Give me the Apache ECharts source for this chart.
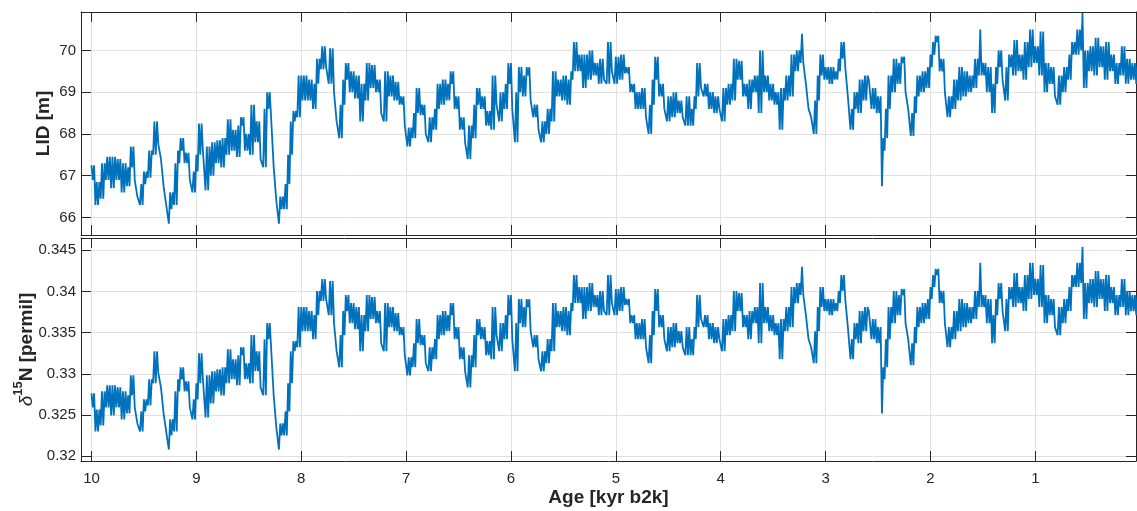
<!DOCTYPE html>
<html>
<head>
<meta charset="UTF-8">
<title>LID and d15N</title>
<script src="https://cdn.jsdelivr.net/npm/echarts@6/dist/echarts.min.js"></script>
<style>
html, body { margin: 0; padding: 0; background: #fff; }
#container { width: 1137px; height: 511px; }
</style>
</head>
<body>
<div id="container"></div>
<script>
// both records are read as an upper and a lower edge of the noisy trace,
// every 25 yr starting at 10.0 kyr b2k
var ageStart = 10.0, ageStep = 0.025;

// lock-in depth [m], upper panel
var lidUpper = [
  67.25, 67.25, 66.85, 66.85, 67.3, 67.3, 67.45, 67.45, 67.45, 67.45,
  67.4, 67.4, 67.3, 67.3, 67.2, 67.7, 67.7, 66.9, 66.5, 66.8,
  67.1, 67.1, 67.6, 67.6, 68.3, 68.3, 67.75, 67.4, 66.75, 66.3,
  66.6, 66.6, 67.3, 67.6, 67.9, 67.9, 67.55, 67.55, 66.9, 67.1,
  67.5, 68.25, 68.25, 67.6, 67.7, 67.7, 67.8, 67.8, 67.85, 67.85,
  67.9, 67.9, 68.35, 68.35, 68.1, 68.1, 68.2, 68.4, 68.4, 68.0,
  68.0, 68.7, 68.7, 68.3, 68.3, 67.4, 68.6, 69.0, 69.0, 68.4,
  67.2, 66.4, 66.5, 66.5, 66.8, 67.5, 68.3, 68.55, 68.55, 69.4,
  69.4, 69.4, 69.4, 69.3, 69.3, 69.2, 69.8, 69.8, 70.1, 70.1,
  69.6, 70.05, 70.05, 69.0, 68.3, 68.7, 69.3, 69.7, 69.7, 69.5,
  69.5, 69.4, 69.4, 69.2, 69.2, 69.7, 69.7, 69.65, 69.65, 69.3,
  69.3, 68.5, 69.5, 69.5, 69.4, 69.4, 69.25, 69.25, 68.9, 68.9,
  68.2, 68.15, 68.15, 68.5, 69.1, 69.1, 68.7, 68.7, 68.0, 68.4,
  68.4, 68.6, 69.2, 69.2, 69.3, 69.3, 69.2, 69.5, 69.5, 68.9,
  68.9, 68.4, 68.4, 67.8, 68.2, 68.2, 68.7, 69.1, 69.1, 68.9,
  68.9, 68.55, 68.55, 69.4, 69.4, 68.7, 69.0, 69.0, 69.2, 69.7,
  69.7, 68.6, 69.0, 69.6, 69.6, 69.4, 69.6, 69.6, 68.8, 68.7,
  68.7, 68.1, 68.3, 68.3, 68.6, 68.6, 69.5, 69.5, 69.3, 69.3,
  69.4, 69.4, 69.3, 69.5, 70.2, 70.2, 69.9, 69.9, 69.9, 69.9,
  70.0, 70.0, 69.7, 69.7, 69.8, 69.8, 69.3, 70.2, 70.2, 69.5,
  69.85, 69.85, 69.9, 69.9, 69.6, 69.6, 69.2, 69.2, 69.0, 69.0,
  69.1, 69.1, 68.4, 68.7, 69.3, 69.85, 69.85, 69.2, 69.2, 68.6,
  68.9, 68.9, 69.0, 69.0, 68.8, 68.8, 68.4, 68.9, 68.9, 68.6,
  68.9, 69.7, 69.7, 69.1, 69.2, 69.2, 69.0, 69.0, 68.9, 68.9,
  68.6, 69.1, 69.1, 69.2, 69.2, 69.8, 69.8, 69.75, 69.75, 69.2,
  69.2, 69.3, 69.3, 69.4, 69.4, 70.0, 70.0, 69.4, 69.4, 69.2,
  69.2, 69.0, 69.0, 69.1, 69.1, 69.4, 69.4, 69.9, 69.9, 70.0,
  70.0, 70.4, 69.7, 69.2, 68.6, 68.4, 68.8, 69.4, 69.9, 69.9,
  69.6, 69.6, 69.6, 69.6, 69.5, 69.8, 70.2, 70.2, 69.6, 68.9,
  68.6, 69.0, 69.0, 69.3, 69.3, 69.4, 69.4, 69.3, 69.1, 69.1,
  68.9, 68.9, 67.9, 68.6, 69.4, 69.4, 69.8, 69.8, 69.7, 69.85,
  69.85, 69.0, 68.6, 68.5, 68.9, 69.4, 69.4, 69.5, 69.5, 69.6,
  69.9, 70.2, 70.35, 70.35, 69.8, 69.8, 69.0, 68.9, 68.9, 69.3,
  69.3, 69.6, 69.6, 69.5, 69.5, 69.4, 69.4, 69.8, 69.8, 70.5,
  69.7, 69.7, 69.6, 69.6, 69.2, 69.6, 70.0, 70.0, 69.3, 69.6,
  69.9, 69.9, 70.25, 70.25, 69.9, 69.9, 70.2, 70.2, 70.5, 70.5,
  70.1, 70.1, 70.45, 70.45, 69.7, 69.7, 69.6, 69.6, 68.9, 69.4,
  69.4, 69.6, 69.6, 69.9, 70.2, 70.2, 70.5, 70.5, 70.9, 70.0,
  70.0, 70.1, 70.1, 70.3, 70.3, 70.1, 70.1, 70.2, 70.2, 69.9,
  69.9, 69.7, 69.7, 70.1, 70.1, 69.8, 69.8, 69.7, 69.7, 69.7
];
var lidLower = [
  66.9, 66.3, 66.3, 66.45, 66.45, 66.9, 66.9, 66.7, 66.7, 66.9,
  66.9, 66.6, 66.6, 66.75, 66.75, 67.2, 66.9, 66.5, 66.3, 66.3,
  66.8, 66.95, 66.95, 67.5, 67.5, 67.75, 67.4, 66.75, 66.3, 65.85,
  66.2, 66.3, 66.3, 67.3, 67.6, 67.3, 67.3, 66.9, 66.6, 66.6,
  67.1, 67.5, 67.6, 66.65, 66.65, 67.0, 67.0, 67.3, 67.3, 67.2,
  67.2, 67.5, 67.5, 67.6, 67.6, 67.45, 67.45, 68.2, 67.6, 67.6,
  67.5, 67.5, 67.8, 67.8, 67.4, 67.2, 67.2, 68.6, 68.4, 67.2,
  66.4, 65.85, 66.2, 66.2, 66.2, 66.8, 67.5, 68.3, 68.4, 68.4,
  68.8, 68.8, 68.8, 68.8, 68.6, 68.6, 69.2, 69.55, 69.55, 69.6,
  69.2, 69.2, 69.0, 68.3, 67.9, 67.9, 68.7, 69.3, 69.0, 69.0,
  68.85, 68.85, 68.3, 68.3, 68.8, 68.8, 69.1, 69.1, 69.0, 69.0,
  68.5, 68.3, 68.3, 68.9, 68.9, 68.8, 68.8, 68.7, 68.7, 68.2,
  67.7, 67.7, 67.9, 67.9, 68.5, 68.45, 68.45, 68.0, 67.8, 67.8,
  68.1, 68.1, 68.6, 68.7, 68.7, 68.8, 68.8, 69.2, 68.6, 68.6,
  68.1, 68.1, 67.8, 67.4, 67.4, 67.9, 67.9, 68.7, 68.6, 68.6,
  68.2, 68.2, 68.1, 68.1, 68.7, 68.3, 68.3, 68.6, 68.6, 69.2,
  68.6, 67.8, 67.8, 69.0, 68.9, 68.9, 69.4, 68.8, 68.4, 68.4,
  68.1, 67.8, 67.8, 68.0, 68.0, 68.3, 68.3, 68.9, 68.9, 68.8,
  68.8, 68.7, 68.7, 69.3, 69.5, 69.5, 69.5, 69.1, 69.1, 69.3,
  69.3, 69.4, 69.4, 69.2, 69.2, 69.3, 69.2, 69.2, 69.5, 69.2,
  69.2, 69.3, 69.3, 69.45, 69.45, 69.0, 69.0, 68.6, 68.6, 68.6,
  68.6, 68.4, 68.0, 68.0, 68.7, 69.3, 68.9, 68.9, 68.6, 68.3,
  68.3, 68.4, 68.4, 68.5, 68.5, 68.4, 68.2, 68.2, 68.2, 68.2,
  68.6, 68.9, 69.1, 68.9, 68.9, 68.6, 68.6, 68.5, 68.5, 68.6,
  68.3, 68.3, 68.7, 68.7, 68.8, 68.8, 69.3, 69.3, 68.9, 68.9,
  68.6, 68.6, 69.0, 69.0, 68.5, 68.5, 69.0, 69.0, 68.8, 68.8,
  68.7, 68.7, 68.1, 68.1, 68.8, 68.8, 68.9, 68.9, 69.5, 69.5,
  69.7, 69.7, 69.2, 68.6, 68.4, 68.0, 68.0, 68.8, 69.4, 69.3,
  69.3, 69.2, 69.2, 69.3, 69.3, 69.5, 69.8, 69.6, 68.9, 68.1,
  68.1, 68.6, 68.5, 68.5, 68.8, 68.8, 69.3, 68.6, 68.6, 68.5,
  68.5, 66.75, 67.6, 67.9, 68.6, 69.0, 69.0, 69.2, 69.2, 69.7,
  69.0, 68.6, 67.95, 67.95, 68.5, 68.9, 69.0, 69.0, 69.1, 69.1,
  69.6, 69.9, 70.2, 69.5, 69.5, 69.0, 68.4, 68.4, 68.6, 68.6,
  68.8, 68.8, 68.9, 68.9, 69.0, 69.0, 69.1, 69.1, 69.4, 69.4,
  69.4, 69.0, 69.0, 68.5, 68.5, 69.2, 69.6, 69.3, 68.8, 68.8,
  69.6, 69.4, 69.4, 69.5, 69.5, 69.3, 69.3, 69.6, 69.6, 69.7,
  69.7, 69.4, 69.4, 69.0, 69.0, 69.2, 69.2, 68.9, 68.7, 68.7,
  69.0, 69.0, 69.3, 69.3, 69.9, 69.9, 69.9, 70.0, 69.1, 69.1,
  69.5, 69.5, 69.4, 69.4, 69.6, 69.6, 69.3, 69.3, 69.5, 69.5,
  69.2, 69.2, 69.4, 69.4, 69.2, 69.2, 69.3, 69.3, 69.2, 69.2
];

// delta 15N [permil], lower panel
var d15nUpper = [
  0.32764, 0.32764, 0.32569, 0.32569, 0.32788, 0.32788, 0.32862, 0.32862, 0.32862, 0.32862,
  0.32837, 0.32837, 0.32788, 0.32788, 0.32740, 0.32983, 0.32983, 0.32594, 0.32399, 0.32545,
  0.32691, 0.32691, 0.32935, 0.32935, 0.33276, 0.33276, 0.33008, 0.32837, 0.32521, 0.32301,
  0.32448, 0.32448, 0.32788, 0.32935, 0.33081, 0.33081, 0.32910, 0.32910, 0.32594, 0.32691,
  0.32886, 0.33251, 0.33251, 0.32935, 0.32983, 0.32983, 0.33032, 0.33032, 0.33056, 0.33056,
  0.33081, 0.33081, 0.33300, 0.33300, 0.33178, 0.33178, 0.33227, 0.33324, 0.33324, 0.33130,
  0.33130, 0.33471, 0.33471, 0.33276, 0.33276, 0.32837, 0.33422, 0.33617, 0.33617, 0.33324,
  0.32740, 0.32350, 0.32399, 0.32399, 0.32545, 0.32886, 0.33276, 0.33398, 0.33398, 0.33812,
  0.33812, 0.33812, 0.33812, 0.33763, 0.33763, 0.33714, 0.34007, 0.34007, 0.34153, 0.34153,
  0.33909, 0.34128, 0.34128, 0.33617, 0.33276, 0.33471, 0.33763, 0.33958, 0.33958, 0.33860,
  0.33860, 0.33812, 0.33812, 0.33714, 0.33714, 0.33958, 0.33958, 0.33933, 0.33933, 0.33763,
  0.33763, 0.33373, 0.33860, 0.33860, 0.33812, 0.33812, 0.33739, 0.33739, 0.33568, 0.33568,
  0.33227, 0.33203, 0.33203, 0.33373, 0.33666, 0.33666, 0.33471, 0.33471, 0.33130, 0.33324,
  0.33324, 0.33422, 0.33714, 0.33714, 0.33763, 0.33763, 0.33714, 0.33860, 0.33860, 0.33568,
  0.33568, 0.33324, 0.33324, 0.33032, 0.33227, 0.33227, 0.33471, 0.33666, 0.33666, 0.33568,
  0.33568, 0.33398, 0.33398, 0.33812, 0.33812, 0.33471, 0.33617, 0.33617, 0.33714, 0.33958,
  0.33958, 0.33422, 0.33617, 0.33909, 0.33909, 0.33812, 0.33909, 0.33909, 0.33519, 0.33471,
  0.33471, 0.33178, 0.33276, 0.33276, 0.33422, 0.33422, 0.33860, 0.33860, 0.33763, 0.33763,
  0.33812, 0.33812, 0.33763, 0.33860, 0.34201, 0.34201, 0.34055, 0.34055, 0.34055, 0.34055,
  0.34104, 0.34104, 0.33958, 0.33958, 0.34007, 0.34007, 0.33763, 0.34201, 0.34201, 0.33860,
  0.34031, 0.34031, 0.34055, 0.34055, 0.33909, 0.33909, 0.33714, 0.33714, 0.33617, 0.33617,
  0.33666, 0.33666, 0.33324, 0.33471, 0.33763, 0.34031, 0.34031, 0.33714, 0.33714, 0.33422,
  0.33568, 0.33568, 0.33617, 0.33617, 0.33519, 0.33519, 0.33324, 0.33568, 0.33568, 0.33422,
  0.33568, 0.33958, 0.33958, 0.33666, 0.33714, 0.33714, 0.33617, 0.33617, 0.33568, 0.33568,
  0.33422, 0.33666, 0.33666, 0.33714, 0.33714, 0.34007, 0.34007, 0.33982, 0.33982, 0.33714,
  0.33714, 0.33763, 0.33763, 0.33812, 0.33812, 0.34104, 0.34104, 0.33812, 0.33812, 0.33714,
  0.33714, 0.33617, 0.33617, 0.33666, 0.33666, 0.33812, 0.33812, 0.34055, 0.34055, 0.34104,
  0.34104, 0.34299, 0.33958, 0.33714, 0.33422, 0.33324, 0.33519, 0.33812, 0.34055, 0.34055,
  0.33909, 0.33909, 0.33909, 0.33909, 0.33860, 0.34007, 0.34201, 0.34201, 0.33909, 0.33568,
  0.33422, 0.33617, 0.33617, 0.33763, 0.33763, 0.33812, 0.33812, 0.33763, 0.33666, 0.33666,
  0.33568, 0.33568, 0.33081, 0.33422, 0.33812, 0.33812, 0.34007, 0.34007, 0.33958, 0.34031,
  0.34031, 0.33617, 0.33422, 0.33373, 0.33568, 0.33812, 0.33812, 0.33860, 0.33860, 0.33909,
  0.34055, 0.34201, 0.34275, 0.34275, 0.34007, 0.34007, 0.33617, 0.33568, 0.33568, 0.33763,
  0.33763, 0.33909, 0.33909, 0.33860, 0.33860, 0.33812, 0.33812, 0.34007, 0.34007, 0.34348,
  0.33958, 0.33958, 0.33909, 0.33909, 0.33714, 0.33909, 0.34104, 0.34104, 0.33763, 0.33909,
  0.34055, 0.34055, 0.34226, 0.34226, 0.34055, 0.34055, 0.34201, 0.34201, 0.34348, 0.34348,
  0.34153, 0.34153, 0.34323, 0.34323, 0.33958, 0.33958, 0.33909, 0.33909, 0.33568, 0.33812,
  0.33812, 0.33909, 0.33909, 0.34055, 0.34201, 0.34201, 0.34348, 0.34348, 0.34542, 0.34104,
  0.34104, 0.34153, 0.34153, 0.34250, 0.34250, 0.34153, 0.34153, 0.34201, 0.34201, 0.34055,
  0.34055, 0.33958, 0.33958, 0.34153, 0.34153, 0.34007, 0.34007, 0.33958, 0.33958, 0.33958
];
var d15nLower = [
  0.32594, 0.32301, 0.32301, 0.32374, 0.32374, 0.32594, 0.32594, 0.32496, 0.32496, 0.32594,
  0.32594, 0.32448, 0.32448, 0.32521, 0.32521, 0.32740, 0.32594, 0.32399, 0.32301, 0.32301,
  0.32545, 0.32618, 0.32618, 0.32886, 0.32886, 0.33008, 0.32837, 0.32521, 0.32301, 0.32082,
  0.32253, 0.32301, 0.32301, 0.32788, 0.32935, 0.32788, 0.32788, 0.32594, 0.32448, 0.32448,
  0.32691, 0.32886, 0.32935, 0.32472, 0.32472, 0.32642, 0.32642, 0.32788, 0.32788, 0.32740,
  0.32740, 0.32886, 0.32886, 0.32935, 0.32935, 0.32862, 0.32862, 0.33227, 0.32935, 0.32935,
  0.32886, 0.32886, 0.33032, 0.33032, 0.32837, 0.32740, 0.32740, 0.33422, 0.33324, 0.32740,
  0.32350, 0.32082, 0.32253, 0.32253, 0.32253, 0.32545, 0.32886, 0.33276, 0.33324, 0.33324,
  0.33519, 0.33519, 0.33519, 0.33519, 0.33422, 0.33422, 0.33714, 0.33885, 0.33885, 0.33909,
  0.33714, 0.33714, 0.33617, 0.33276, 0.33081, 0.33081, 0.33471, 0.33763, 0.33617, 0.33617,
  0.33544, 0.33544, 0.33276, 0.33276, 0.33519, 0.33519, 0.33666, 0.33666, 0.33617, 0.33617,
  0.33373, 0.33276, 0.33276, 0.33568, 0.33568, 0.33519, 0.33519, 0.33471, 0.33471, 0.33227,
  0.32983, 0.32983, 0.33081, 0.33081, 0.33373, 0.33349, 0.33349, 0.33130, 0.33032, 0.33032,
  0.33178, 0.33178, 0.33422, 0.33471, 0.33471, 0.33519, 0.33519, 0.33714, 0.33422, 0.33422,
  0.33178, 0.33178, 0.33032, 0.32837, 0.32837, 0.33081, 0.33081, 0.33471, 0.33422, 0.33422,
  0.33227, 0.33227, 0.33178, 0.33178, 0.33471, 0.33276, 0.33276, 0.33422, 0.33422, 0.33714,
  0.33422, 0.33032, 0.33032, 0.33617, 0.33568, 0.33568, 0.33812, 0.33519, 0.33324, 0.33324,
  0.33178, 0.33032, 0.33032, 0.33130, 0.33130, 0.33276, 0.33276, 0.33568, 0.33568, 0.33519,
  0.33519, 0.33471, 0.33471, 0.33763, 0.33860, 0.33860, 0.33860, 0.33666, 0.33666, 0.33763,
  0.33763, 0.33812, 0.33812, 0.33714, 0.33714, 0.33763, 0.33714, 0.33714, 0.33860, 0.33714,
  0.33714, 0.33763, 0.33763, 0.33836, 0.33836, 0.33617, 0.33617, 0.33422, 0.33422, 0.33422,
  0.33422, 0.33324, 0.33130, 0.33130, 0.33471, 0.33763, 0.33568, 0.33568, 0.33422, 0.33276,
  0.33276, 0.33324, 0.33324, 0.33373, 0.33373, 0.33324, 0.33227, 0.33227, 0.33227, 0.33227,
  0.33422, 0.33568, 0.33666, 0.33568, 0.33568, 0.33422, 0.33422, 0.33373, 0.33373, 0.33422,
  0.33276, 0.33276, 0.33471, 0.33471, 0.33519, 0.33519, 0.33763, 0.33763, 0.33568, 0.33568,
  0.33422, 0.33422, 0.33617, 0.33617, 0.33373, 0.33373, 0.33617, 0.33617, 0.33519, 0.33519,
  0.33471, 0.33471, 0.33178, 0.33178, 0.33519, 0.33519, 0.33568, 0.33568, 0.33860, 0.33860,
  0.33958, 0.33958, 0.33714, 0.33422, 0.33324, 0.33130, 0.33130, 0.33519, 0.33812, 0.33763,
  0.33763, 0.33714, 0.33714, 0.33763, 0.33763, 0.33860, 0.34007, 0.33909, 0.33568, 0.33178,
  0.33178, 0.33422, 0.33373, 0.33373, 0.33519, 0.33519, 0.33763, 0.33422, 0.33422, 0.33373,
  0.33373, 0.32521, 0.32935, 0.33081, 0.33422, 0.33617, 0.33617, 0.33714, 0.33714, 0.33958,
  0.33617, 0.33422, 0.33105, 0.33105, 0.33373, 0.33568, 0.33617, 0.33617, 0.33666, 0.33666,
  0.33909, 0.34055, 0.34201, 0.33860, 0.33860, 0.33617, 0.33324, 0.33324, 0.33422, 0.33422,
  0.33519, 0.33519, 0.33568, 0.33568, 0.33617, 0.33617, 0.33666, 0.33666, 0.33812, 0.33812,
  0.33812, 0.33617, 0.33617, 0.33373, 0.33373, 0.33714, 0.33909, 0.33763, 0.33519, 0.33519,
  0.33909, 0.33812, 0.33812, 0.33860, 0.33860, 0.33763, 0.33763, 0.33909, 0.33909, 0.33958,
  0.33958, 0.33812, 0.33812, 0.33617, 0.33617, 0.33714, 0.33714, 0.33568, 0.33471, 0.33471,
  0.33617, 0.33617, 0.33763, 0.33763, 0.34055, 0.34055, 0.34055, 0.34104, 0.33666, 0.33666,
  0.33860, 0.33860, 0.33812, 0.33812, 0.33909, 0.33909, 0.33763, 0.33763, 0.33860, 0.33860,
  0.33714, 0.33714, 0.33812, 0.33812, 0.33714, 0.33714, 0.33763, 0.33763, 0.33714, 0.33714
];

// tick labels
var ageTicks = [10, 9, 8, 7, 6, 5, 4, 3, 2, 1];
var lidTicks = [66, 67, 68, 69, 70];
var d15nTicks = [0.32, 0.325, 0.33, 0.335, 0.34, 0.345];

var FONT = '"Liberation Sans", Arial, Helvetica, sans-serif';
var INK = '#262626';
var GRIDC = '#e1e1e1';

function pick(list) {
    return function (v) {
        for (var i = 0; i < list.length; i++) {
            if (Math.abs(list[i] - v) < 1e-7) return String(list[i]);
        }
        return '';
    };
}

// trace runs upper, lower, upper, lower ... half a step apart
function trace(upper, lower) {
    var out = [];
    for (var i = 0; i < upper.length; i++) {
        var a = ageStart - i * ageStep;
        out.push([+a.toFixed(4), upper[i]]);
        out.push([+(a - ageStep / 2).toFixed(4), lower[i]]);
    }
    return out;
}

function xAx(gridIndex, position, labels, split) {
    return {
        type: 'value', gridIndex: gridIndex, position: position,
        inverse: true, min: 0.04, max: 10.1, splitNumber: 10,
        axisLine: { show: true, onZero: false, lineStyle: { color: INK, width: 1 } },
        axisTick: { show: true, inside: true, length: 10, lineStyle: { color: INK } },
        axisLabel: { show: labels, formatter: pick(ageTicks), color: INK, fontSize: 15,
                     fontFamily: FONT, margin: 10, showMinLabel: false, showMaxLabel: false },
        splitLine: { show: split, lineStyle: { color: GRIDC, width: 1 } }
    };
}

function yAx(gridIndex, position, min, max, ticks, split) {
    return {
        type: 'value', gridIndex: gridIndex, position: position,
        min: min, max: max, splitNumber: 5,
        axisLine: { show: true, onZero: false, lineStyle: { color: INK, width: 1 } },
        axisTick: { show: true, inside: true, length: 10, lineStyle: { color: INK } },
        axisLabel: { show: split, formatter: pick(ticks), color: INK, fontSize: 15,
                     fontFamily: FONT, margin: 5, showMinLabel: false, showMaxLabel: false },
        splitLine: { show: split, lineStyle: { color: GRIDC, width: 1 } }
    };
}

var xs = [
    xAx(0, 'bottom', false, true),
    xAx(0, 'top', false, false),
    xAx(1, 'bottom', true, true),
    xAx(1, 'top', false, false)
];
xs[2].name = 'Age [kyr b2k]';
xs[2].nameLocation = 'middle';
xs[2].nameGap = 27;
xs[2].nameTextStyle = { fontSize: 19, fontWeight: 'bold', color: INK, fontFamily: FONT };

var ys = [
    yAx(0, 'left', 65.58, 70.92, lidTicks, true),
    yAx(0, 'right', 65.58, 70.92, lidTicks, false),
    yAx(1, 'left', 0.31943, 0.3465, d15nTicks, true),
    yAx(1, 'right', 0.31943, 0.3465, d15nTicks, false)
];
ys[0].name = 'LID [m]';
ys[0].nameLocation = 'middle';
ys[0].nameGap = 28;
ys[0].nameMoveOverlap = false;
ys[0].nameTextStyle = { fontSize: 19, fontWeight: 'bold', color: INK, fontFamily: FONT };

ys[2].name = '{i|δ}{s|15}{n|N [permil]}';
ys[2].nameLocation = 'middle';
ys[2].nameGap = 45;
ys[2].nameMoveOverlap = false;
ys[2].nameTextStyle = {
    fontSize: 19, fontWeight: 'bold', color: INK, fontFamily: FONT,
    rich: {
        i: { fontSize: 19, fontStyle: 'italic', fontWeight: 'normal', color: INK, fontFamily: FONT, lineHeight: 24, verticalAlign: 'bottom' },
        s: { fontSize: 13, fontWeight: 'bold', color: INK, fontFamily: FONT, lineHeight: 24, verticalAlign: 'top' },
        n: { fontSize: 19, fontWeight: 'bold', color: INK, fontFamily: FONT, lineHeight: 24, verticalAlign: 'bottom' }
    }
};

var mychart = echarts.init(document.getElementById('container'), null, { renderer: 'canvas' });
var option = {
    animation: false,
    backgroundColor: '#ffffff',
    grid: [
        { left: 81, right: 1, top: 12, height: 223 },
        { left: 81, right: 1, top: 238, height: 223 }
    ],
    xAxis: xs,
    yAxis: ys,
    series: [
        {
            name: 'LID', type: 'line', xAxisIndex: 0, yAxisIndex: 0,
            data: trace(lidUpper, lidLower), showSymbol: false, symbol: 'none',
            lineStyle: { color: '#0072BD', width: 1.8 }, clip: true
        },
        {
            name: 'd15N', type: 'line', xAxisIndex: 2, yAxisIndex: 2,
            data: trace(d15nUpper, d15nLower), showSymbol: false, symbol: 'none',
            lineStyle: { color: '#0072BD', width: 1.8 }, clip: true
        }
    ]
};
mychart.setOption(option);
</script>
</body>
</html>
